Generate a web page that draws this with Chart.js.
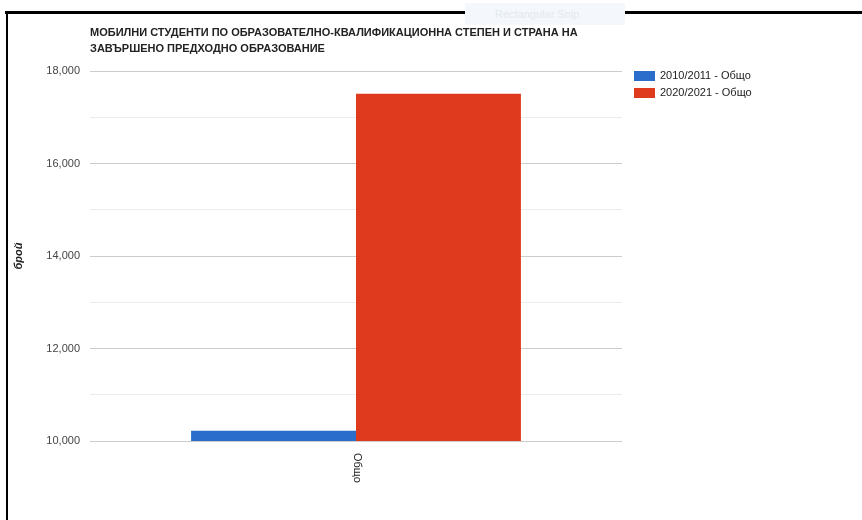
<!DOCTYPE html>
<html lang="bg">
<head>
<meta charset="UTF-8" />
<title>Мобилни студенти</title>
<script src="https://cdn.jsdelivr.net/npm/chart.js"></script>
<style>
    body { margin: 0; background: #fff; font-family: Arial, "Liberation Sans", sans-serif; }
    #wrap { position: relative; width: 862px; height: 520px; overflow: hidden; }
    canvas { position: absolute; left: 0; top: 0; }
    .frameTop { position: absolute; left: 5px; top: 11px; width: 857px; height: 3px; background: #000; }
    .frameLeft { position: absolute; left: 6px; top: 11px; width: 2px; height: 509px; background: #000; }
    .snip { position: absolute; left: 465px; top: 3px; width: 160px; height: 22px; background: #f4f8fc;
            color: #e3e8f0; font-size: 11px; line-height: 22px; padding-left: 30px; box-sizing: border-box; }
</style>
</head>
<body>
<div id="wrap">
    <canvas id="chart" width="862" height="520"></canvas>
    <div class="frameTop"></div>
    <div class="frameLeft"></div>
    <div class="snip">Rectangular Snip</div>
</div>

<script>
// данни
const categories = ['Общо'];
const seriesLabels = ['2010/2011 - Общо', '2020/2021 - Общо'];
const values2010 = [10220];
const values2020 = [17510];
const seriesColors = ['#2a6dca', '#df3a1e'];
const titleLines = ['МОБИЛНИ СТУДЕНТИ ПО ОБРАЗОВАТЕЛНО-КВАЛИФИКАЦИОННА СТЕПЕН И СТРАНА НА',
                    'ЗАВЪРШЕНО ПРЕДХОДНО ОБРАЗОВАНИЕ'];
const yAxisTitle = 'брой';
const yMin = 10000, yMax = 18000, yStep = 1000;

const FONT = 'Arial, "Liberation Sans", sans-serif';

// заглавие, легенда и етикет по x
const extras = {
    id: 'extras',
    afterDraw(chart) {
        const ctx = chart.ctx;
        const area = chart.chartArea;
        ctx.save();

        ctx.fillStyle = '#222';
        ctx.font = 'bold 11px ' + FONT;
        ctx.textAlign = 'left';
        ctx.textBaseline = 'middle';
        titleLines.forEach((t, i) => ctx.fillText(t, area.left, 33 + i * 16));

        // легенда
        ctx.font = '11px ' + FONT;
        chart.data.datasets.forEach((ds, i) => {
            const y = 76 + i * 17;
            ctx.fillStyle = ds.backgroundColor;
            ctx.fillRect(634, y - 5, 21, 10);
            ctx.fillStyle = '#222';
            ctx.fillText(ds.label, 660, y);
        });

        // етикет на категорията, завъртян
        const xs = chart.scales.x;
        categories.forEach((c, i) => {
            ctx.save();
            ctx.translate(xs.getPixelForValue(i) + 1, area.bottom + 12);
            ctx.rotate(Math.PI / 2);
            ctx.fillStyle = '#222';
            ctx.fillText(c, 0, 0);
            ctx.restore();
        });
        ctx.restore();
    }
};

new Chart(document.getElementById('chart').getContext('2d'), {
    type: 'bar',
    data: {
        labels: categories,
        datasets: [
            { label: seriesLabels[0], data: values2010, backgroundColor: seriesColors[0] },
            { label: seriesLabels[1], data: values2020, backgroundColor: seriesColors[1] }
        ]
    },
    options: {
        responsive: false,
        animation: false,
        layout: { padding: { top: 71, right: 240, bottom: 79, left: 0 } },
        datasets: { bar: { categoryPercentage: 0.62, barPercentage: 1.0 } },
        plugins: {
            legend: { display: false },
            title: { display: false },
            tooltip: { enabled: false }
        },
        scales: {
            x: { display: false },
            y: {
                min: yMin,
                max: yMax,
                afterFit: s => { s.width = 90; },
                border: { display: false },
                grid: {
                    drawTicks: false,
                    color: c => (c.tick && c.tick.value % 2000 !== 0) ? '#ececec' : '#cccccc'
                },
                ticks: {
                    stepSize: yStep,
                    padding: 10,
                    color: '#444',
                    font: { family: FONT, size: 11 },
                    callback: v => v % 2000 === 0 ? v.toLocaleString('en-US') : ''
                },
                title: {
                    display: true,
                    text: yAxisTitle,
                    color: '#222',
                    font: { family: FONT, size: 11, style: 'italic', weight: 'bold' },
                    padding: { top: 12, bottom: 0 }
                }
            }
        }
    },
    plugins: [extras]
});
</script>
</body>
</html>
